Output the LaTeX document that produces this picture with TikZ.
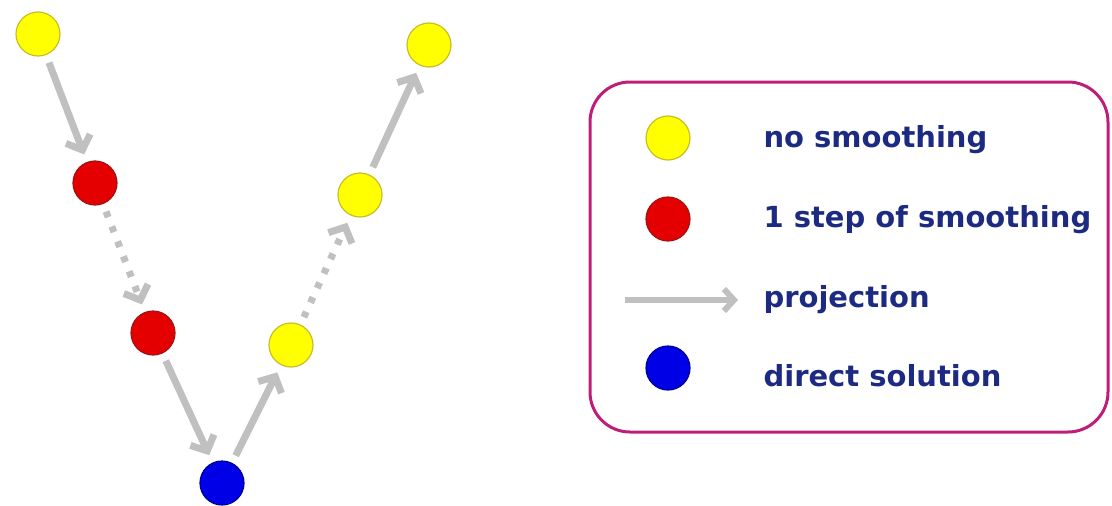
\documentclass[tikz,border=0pt]{standalone}
\usepackage{fontspec}
\setmainfont{DejaVu Sans}
\usetikzlibrary{arrows.meta}
\definecolor{ball-yellow}{RGB}{255,255,0}
\definecolor{ball-yellowrim}{RGB}{200,190,40}
\definecolor{ball-red}{RGB}{228,0,0}
\definecolor{ball-redrim}{RGB}{160,20,20}
\definecolor{ball-blue}{RGB}{0,0,230}
\definecolor{ball-bluerim}{RGB}{0,0,150}
\definecolor{arrowgray}{RGB}{192,192,192}
\definecolor{framecol}{RGB}{190,30,120}
\definecolor{textcol}{RGB}{28,42,130}
\tikzset{
  ball/.style={circle, minimum size=44pt, inner sep=0pt, line width=1.2pt},
  yball/.style={ball, fill=ball-yellow, draw=ball-yellowrim},
  rball/.style={ball, fill=ball-red, draw=ball-redrim},
  bball/.style={ball, fill=ball-blue, draw=ball-bluerim},
  proj/.style={draw=arrowgray, line width=7pt, -{Straight Barb[length=12pt,width=26pt]}, shorten <=8pt, shorten >=8pt},
  smooth/.style={proj, dash pattern=on 6pt off 10pt},
  legtext/.style={anchor=west, text=textcol, font=\bfseries\fontsize{29}{33}\selectfont}
}
\begin{document}
\begin{tikzpicture}[x=1pt,y=-1pt]
\useasboundingbox (0,0) rectangle (1112,506);
\node[yball] (y1) at (38,34) {};
\node[rball] (r1) at (95,183) {};
\node[rball] (r2) at (153,333) {};
\node[bball] (b) at (222,483) {};
\node[yball] (y2) at (291,345) {};
\node[yball] (y3) at (360,195) {};
\node[yball] (y4) at (429,45) {};
\draw[proj] (y1) -- (r1);
\draw[smooth] (r1) -- (r2);
\draw[proj] (r2) -- (b);
\draw[proj] (b) -- (y2);
\draw[smooth] (y2) -- (y3);
\draw[proj] (y3) -- (y4);
\node[draw=framecol, line width=3pt, rounded corners=40pt, minimum width=518pt, minimum height=350pt] (frame) at (849,257) {};
\node[yball] (ly) at (668,138) {};
\node[rball] (lr) at (668,219) {};
\coordinate (la1) at (625,300);
\coordinate (la2) at (738,300);
\node[bball] (lb) at (668,368) {};
\draw[draw=arrowgray, line width=6pt, -{Straight Barb[length=10pt,width=22pt]}] (la1) -- (la2);
\node[legtext] (t1) at (760,140) {no smoothing};
\node[legtext] (t2) at (760,220) {1 step of smoothing};
\node[legtext] (t3) at (760,300) {projection};
\node[legtext] (t4) at (760,376) {direct solution};
\end{tikzpicture}
\end{document}
